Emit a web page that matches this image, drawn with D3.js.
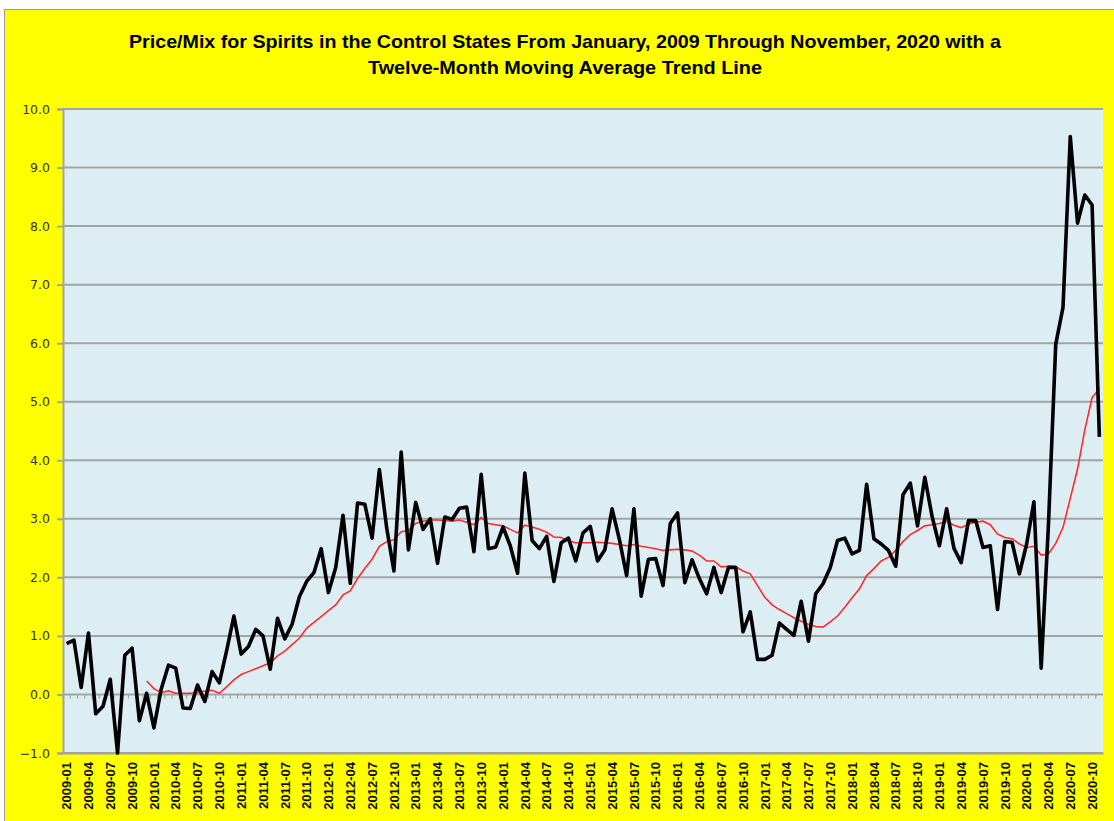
<!DOCTYPE html>
<html><head><meta charset="utf-8">
<script src="https://cdn.jsdelivr.net/npm/d3@7"></script>
<style>body{margin:0;background:#fff;} svg{display:block;}</style>
</head><body>
<svg id="chart" width="1114" height="821"></svg>
<script>
// ---------- data ----------
const titleLines = [
  "Price/Mix for Spirits in the Control States From January, 2009 Through November, 2020 with a",
  "Twelve-Month Moving Average Trend Line"
];
const firstMonth = new Date(2009, 0, 1);
const lastMonth = new Date(2020, 10, 1);
const fmtMonth = d3.timeFormat("%Y-%m");
const categories = d3.timeMonth.range(firstMonth, d3.timeMonth.offset(lastMonth, 1)).map(fmtMonth);

// monthly price/mix values (2009-01 .. 2020-11)
const priceMix = [
  0.87, 0.93, 0.12, 1.05, -0.33, -0.20, 0.26, -1.00, 0.67, 0.79, -0.45, 0.02,
  -0.57, 0.09, 0.50, 0.45, -0.23, -0.24, 0.16, -0.12, 0.39, 0.20, 0.75, 1.34,
  0.69, 0.82, 1.11, 1.00, 0.43, 1.30, 0.95, 1.20, 1.67, 1.93, 2.08, 2.49,
  1.74, 2.17, 3.06, 1.90, 3.27, 3.25, 2.67, 3.84, 2.85, 2.11, 4.14, 2.47,
  3.28, 2.82, 3.00, 2.24, 3.03, 2.99, 3.18, 3.20, 2.44, 3.76, 2.49, 2.52,
  2.86, 2.54, 2.07, 3.78, 2.63, 2.49, 2.70, 1.93, 2.59, 2.67, 2.28, 2.76,
  2.87, 2.28, 2.47, 3.17, 2.65, 2.03, 3.17, 1.68, 2.31, 2.32, 1.86, 2.92,
  3.10, 1.91, 2.30, 1.98, 1.72, 2.17, 1.74, 2.17, 2.17, 1.07, 1.41, 0.60,
  0.60, 0.67, 1.22, 1.11, 1.01, 1.59, 0.91, 1.72, 1.89, 2.17, 2.63, 2.67,
  2.40, 2.46, 3.59, 2.66, 2.57, 2.46, 2.19, 3.41, 3.61, 2.88, 3.71, 3.04,
  2.54, 3.17, 2.50, 2.25, 2.97, 2.97, 2.51, 2.54, 1.45, 2.61, 2.60, 2.06,
  2.57, 3.29, 0.45, 2.90, 5.98, 6.61, 9.53, 8.05, 8.53, 8.36, 4.40
];

// twelve-month moving average trend line (2009-12 .. 2020-11)
const trendStart = "2009-12";
const movingAvg = [
  0.23,
  0.10, 0.03, 0.06, 0.02, 0.02, 0.02, 0.03, 0.06, 0.07, 0.02, 0.13, 0.25,
  0.34, 0.39, 0.44, 0.49, 0.54, 0.66, 0.74, 0.85, 0.96, 1.13, 1.23, 1.33,
  1.43, 1.53, 1.70, 1.77, 1.98, 2.15, 2.31, 2.53, 2.61, 2.64, 2.78, 2.80,
  2.92, 2.96, 2.98, 2.98, 2.97, 2.96, 2.98, 2.94, 2.90, 3.02, 2.92, 2.90,
  2.88, 2.82, 2.76, 2.89, 2.86, 2.82, 2.77, 2.69, 2.68, 2.62, 2.59, 2.59,
  2.59, 2.60, 2.59, 2.58, 2.56, 2.54, 2.56, 2.53, 2.51, 2.49, 2.46, 2.47,
  2.48, 2.47, 2.45, 2.38, 2.28, 2.28, 2.18, 2.19, 2.18, 2.11, 2.06, 1.86,
  1.66, 1.53, 1.45, 1.38, 1.31, 1.25, 1.20, 1.16, 1.15, 1.24, 1.34, 1.49,
  1.65, 1.80, 2.03, 2.15, 2.28, 2.34, 2.46, 2.61, 2.73, 2.80, 2.88, 2.90,
  2.92, 2.96, 2.89, 2.85, 2.91, 2.94, 2.96, 2.90, 2.74, 2.68, 2.66, 2.57,
  2.51, 2.53, 2.38, 2.40, 2.58, 2.85, 3.35, 3.85, 4.52, 5.07, 5.22
];

const yTickValues = [-1, 0, 1, 2, 3, 4, 5, 6, 7, 8, 9, 10];
const xTickLabels = categories.filter((d, i) => i % 3 === 0);

// ---------- layout ----------
const svg = d3.select("#chart");
const W = 1114, H = 821;
const plot = {left: 63, right: 1103, top: 109, bottom: 753};

const x = d3.scaleBand().domain(categories).range([plot.left, plot.right]).padding(0);
const xc = d => x(d) + x.bandwidth() / 2;
const y = d3.scaleLinear().domain([-1, 10]).range([plot.bottom, plot.top]);

// chart background
svg.append("rect").attr("x", 0).attr("y", 0).attr("width", W).attr("height", H).attr("fill", "#fff");
svg.append("rect").attr("x", 4.5).attr("y", 9.5).attr("width", W + 10).attr("height", H + 10)
  .attr("fill", "#FFFF00").attr("stroke", "#9a9a9a").attr("stroke-width", 1);

// plot area
svg.append("rect").attr("x", plot.left).attr("y", plot.top)
  .attr("width", plot.right - plot.left).attr("height", plot.bottom - plot.top)
  .attr("fill", "#DCEEF4");

// gridlines
svg.append("g").selectAll("line").data(yTickValues.filter(v => v !== 0)).join("line")
  .attr("x1", plot.left).attr("x2", plot.right)
  .attr("y1", d => y(d)).attr("y2", d => y(d))
  .attr("stroke", "#A3A3A3").attr("stroke-width", 2);

// y axis
const yAxis = d3.axisLeft(y).tickValues(yTickValues).tickFormat(d3.format(".1f")).tickSize(6).tickPadding(7);
const gy = svg.append("g").attr("transform", `translate(${plot.left},0)`).call(yAxis);
gy.select(".domain").attr("stroke", "#A3A3A3").attr("stroke-width", 2);
gy.selectAll(".tick line").attr("stroke", "#A3A3A3").attr("stroke-width", 2);
gy.selectAll(".tick text").attr("font-family", "DejaVu Sans, Verdana, sans-serif")
  .attr("font-size", 12.5).attr("fill", "#333");

// category axis at zero with small ticks between categories
const zeroY = y(0);
svg.append("line").attr("x1", plot.left).attr("x2", plot.right)
  .attr("y1", zeroY).attr("y2", zeroY).attr("stroke", "#A3A3A3").attr("stroke-width", 2);
svg.append("g").selectAll("line").data(categories).join("line")
  .attr("x1", d => x(d)).attr("x2", d => x(d))
  .attr("y1", zeroY).attr("y2", zeroY + 4)
  .attr("stroke", "#A3A3A3").attr("stroke-width", 1.2);

// category labels at the bottom
const xAxis = d3.axisBottom(x).tickValues(xTickLabels).tickSize(0).tickPadding(0);
const gx = svg.append("g").attr("transform", `translate(0,${plot.bottom})`).call(xAxis);
gx.select(".domain").attr("stroke", "#A3A3A3").attr("stroke-width", 2);
gx.selectAll(".tick text")
  .attr("transform", "translate(0,9) rotate(-90)")
  .attr("text-anchor", "end").attr("x", 0).attr("y", 0).attr("dy", "0.36em")
  .attr("font-family", "Liberation Sans, Arial, sans-serif").attr("font-weight", "bold")
  .attr("font-size", 13).attr("fill", "#111");

// lines
const line = d3.line().x(d => xc(d.m)).y(d => y(d.v));
const mainData = categories.map((m, i) => ({m, v: priceMix[i]}));
const t0 = categories.indexOf(trendStart);
const trendData = movingAvg.map((v, i) => ({m: categories[t0 + i], v}));

svg.append("path").datum(trendData).attr("d", line)
  .attr("fill", "none").attr("stroke", "#FF2A2A").attr("stroke-width", 1.6);
svg.append("path").datum(mainData).attr("d", line)
  .attr("fill", "none").attr("stroke", "#000").attr("stroke-width", 3.6)
  .attr("stroke-linejoin", "round");

// title
svg.append("g").selectAll("text").data(titleLines).join("text")
  .attr("x", 565).attr("y", (d, i) => 48 + i * 26)
  .attr("text-anchor", "middle")
  .attr("font-family", "Liberation Sans Narrow, Liberation Sans, Arial Narrow, sans-serif")
  .attr("font-weight", "bold").attr("font-size", 19).attr("fill", "#000")
  .attr("textLength", (d, i) => i === 0 ? 872 : 394).attr("lengthAdjust", "spacingAndGlyphs")
  .text(d => d);
</script>
</body></html>
